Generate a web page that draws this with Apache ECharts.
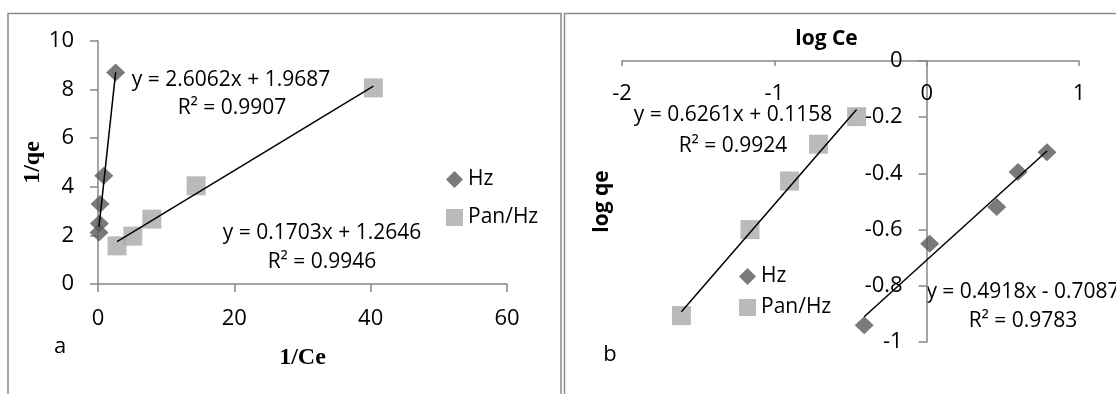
<!DOCTYPE html>
<html>
<head>
<meta charset="utf-8">
<script src="https://cdn.jsdelivr.net/npm/echarts@6/dist/echarts.min.js"></script>
<style>
html, body { margin: 0; padding: 0; background: #fff; }
#chart { width: 1116px; height: 394px; }
</style>
</head>
<body>
<div id="chart"></div>
<script>
// panel a: 1/Ce vs 1/qe
var hzInvCe = [0.15, 0.2, 0.3, 0.85, 2.59];
var hzInvQe = [2.12, 2.49, 3.29, 4.45, 8.7];
var panInvCe = [2.8, 5.1, 7.9, 14.4, 40.4];
var panInvQe = [1.57, 1.97, 2.67, 4.04, 8.07];

// panel b: log Ce vs log qe
var hzLogCe = [-0.41, 0.02, 0.46, 0.6, 0.79];
var hzLogQe = [-0.94, -0.65, -0.52, -0.395, -0.325];
var panLogCe = [-1.61, -1.16, -0.9, -0.71, -0.46];
var panLogQe = [-0.906, -0.6, -0.427, -0.296, -0.198];

// linear trendlines [slope, intercept]
var fitHzA = [2.6062, 1.9687];
var fitPanA = [0.1703, 1.2646];
var fitHzB = [0.4918, -0.7087];
var fitPanB = [0.6261, 0.1158];

var eqHzA = ['y = 2.6062x + 1.9687', 'R\u00b2 = 0.9907'];
var eqPanA = ['y = 0.1703x + 1.2646', 'R\u00b2 = 0.9946'];
var eqPanB = ['y = 0.6261x + 0.1158', 'R\u00b2 = 0.9924'];
var eqHzB = ['y = 0.4918x - 0.7087', 'R\u00b2 = 0.9783'];

// axis ranges [min, max, interval]
var xRangeA = [0, 60, 20];
var yRangeA = [0, 10, 2];
var xRangeB = [-2, 1, 1];
var yRangeB = [-1, 0, 0.2];

var names = ['Hz', 'Pan/Hz'];

function zip(xs, ys) {
    return xs.map(function (x, i) { return [x, ys[i]]; });
}
function trend(xs, c) {
    var lo = Math.min.apply(null, xs), hi = Math.max.apply(null, xs);
    return [[lo, c[0] * lo + c[1]], [hi, c[0] * hi + c[1]]];
}

var sans = '"Open Sans", sans-serif';
var axisGray = '#878787';
var gridB = { left: 622, top: 61, width: 457, height: 281 };

function scatter(name, data, grid, symbol, size, color) {
    return {
        name: name, type: 'scatter', xAxisIndex: grid, yAxisIndex: grid,
        symbol: symbol, symbolSize: size, data: data,
        itemStyle: { color: color }, z: 2
    };
}
function fitLine(data, grid) {
    return {
        type: 'line', xAxisIndex: grid, yAxisIndex: grid, data: data,
        showSymbol: false, silent: true, z: 3,
        lineStyle: { color: '#000', width: 1.5 }
    };
}
function valAxis(r, extra) {
    var a = {
        type: 'value', min: r[0], max: r[1], interval: r[2],
        splitLine: { show: false },
        axisLine: { lineStyle: { color: axisGray, width: 1.5 } },
        axisTick: { lineStyle: { color: axisGray, width: 1.5 }, length: 8 },
        axisLabel: { color: '#000', fontSize: 22, fontFamily: sans, margin: 24 }
    };
    return Object.assign(a, extra);
}
function text(str, x, y, font) {
    return {
        type: 'text', x: x, y: y, silent: true,
        style: {
            text: str, fill: '#000', font: font,
            align: 'center', verticalAlign: 'middle',
            textAlign: 'center', textVerticalAlign: 'middle'
        }
    };
}
function legendAt(left, top, gap) {
    return {
        data: names, orient: 'vertical', left: left, top: top, padding: 0,
        itemWidth: 17, itemHeight: 17, itemGap: gap,
        textStyle: { fontSize: 21, fontFamily: sans, color: '#000' }
    };
}

var eqFont = '21px ' + sans;
var diamondSize = [19, 18];
var squareSize = 19;

var option = {
    animation: false,
    backgroundColor: '#fff',
    grid: [
        { left: 98, top: 41, width: 409, height: 243 },
        gridB
    ],
    xAxis: [
        valAxis(xRangeA, {
            gridIndex: 0,
            name: '1/Ce', nameLocation: 'middle', nameGap: 62,
            nameTextStyle: { fontFamily: '"Liberation Serif", serif', fontWeight: 'bold', fontSize: 24, color: '#000' }
        }),
        valAxis(xRangeB, {
            gridIndex: 1, position: 'top',
            name: 'log Ce', nameLocation: 'middle', nameGap: 11,
            nameTextStyle: { fontFamily: sans, fontWeight: 'bold', fontSize: 21, color: '#000', padding: [0, 48, 0, 0] },
            axisLine: { onZero: false, lineStyle: { color: axisGray, width: 1.5 } },
            axisTick: { lineStyle: { color: axisGray, width: 1.5 }, length: 5, inside: true },
            axisLabel: { color: '#000', fontSize: 22, fontFamily: sans, margin: 22, inside: true }
        })
    ],
    yAxis: [
        valAxis(yRangeA, {
            gridIndex: 0,
            name: '1/qe', nameLocation: 'middle', nameGap: 42, nameRotate: 90,
            nameTextStyle: { fontFamily: '"Liberation Serif", serif', fontWeight: 'bold', fontSize: 24, color: '#000' }
        }),
        valAxis(yRangeB, {
            gridIndex: 1,
            name: 'log qe', nameLocation: 'middle', nameGap: 314, nameRotate: 90,
            nameTextStyle: { fontFamily: sans, fontWeight: 'bold', fontSize: 21, color: '#000' },
            axisLine: { onZero: false, lineStyle: { color: axisGray, width: 1.5 } }
        })
    ],
    legend: [
        legendAt(446, 169, 17),
        legendAt(739, 266, 10)
    ],
    series: [
        scatter(names[0], zip(hzInvCe, hzInvQe), 0, 'diamond', diamondSize, '#595959'),
        scatter(names[1], zip(panInvCe, panInvQe), 0, 'rect', squareSize, '#a9a9a9'),
        fitLine(trend(hzInvCe, fitHzA), 0),
        fitLine(trend(panInvCe, fitPanA), 0),
        scatter(names[0], zip(hzLogCe, hzLogQe), 1, 'diamond', diamondSize, '#595959'),
        scatter(names[1], zip(panLogCe, panLogQe), 1, 'rect', squareSize, '#a9a9a9'),
        fitLine(trend(hzLogCe, fitHzB), 1),
        fitLine(trend(panLogCe, fitPanB), 1)
    ],
    graphic: [
        // panel frames
        { type: 'rect', silent: true, shape: { x: 8, y: 13.5, width: 553, height: 420 },
          style: { fill: 'none', stroke: '#8c8c8c', lineWidth: 1.5 } },
        { type: 'rect', silent: true, shape: { x: 564.5, y: 13.5, width: 600, height: 420 },
          style: { fill: 'none', stroke: '#8c8c8c', lineWidth: 1.5 } },
        text(eqHzA[0], 231, 80, eqFont),
        text(eqHzA[1], 232, 108, eqFont),
        text(eqPanA[0], 322, 233, eqFont),
        text(eqPanA[1], 322, 262, eqFont),
        text(eqPanB[0], 733, 115, eqFont),
        text(eqPanB[1], 733, 146, eqFont),
        text(eqHzB[0], 1023, 292, eqFont),
        text(eqHzB[1], 1023, 321, eqFont),
        text('a', 60, 347, '22px ' + sans),
        text('b', 610, 355, '22px ' + sans)
    ]
};

var chart = echarts.init(document.getElementById('chart'));
chart.setOption(option);

// panel b's vertical axis crosses at log Ce = 0
var zeroX = chart.convertToPixel({ xAxisIndex: 1 }, 0);
chart.setOption({ yAxis: [{}, { offset: gridB.left - zeroX }] });
</script>
</body>
</html>
